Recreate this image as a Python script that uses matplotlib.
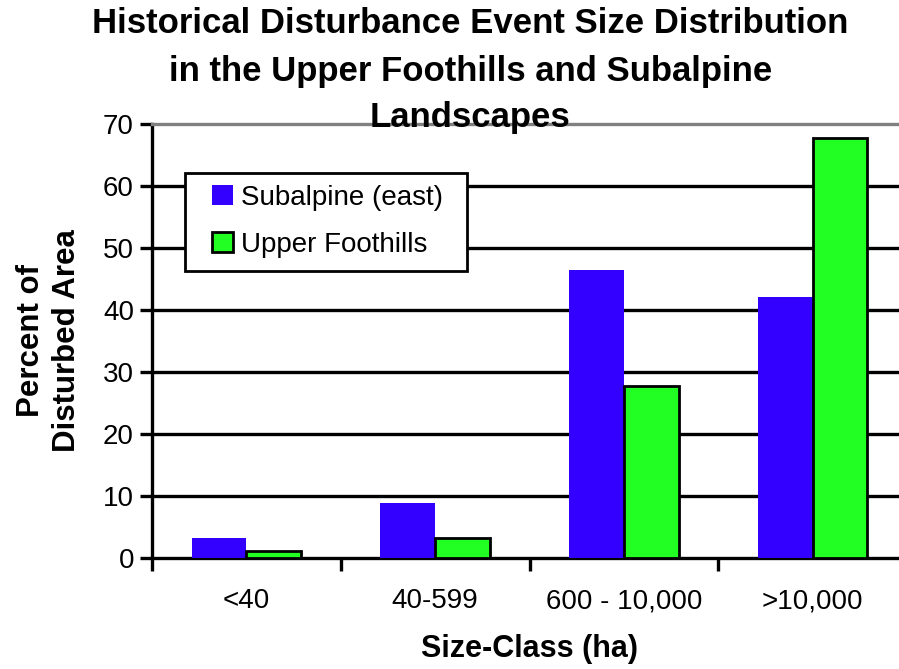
import matplotlib.pyplot as plt
import numpy as np
import matplotlib as mpl
from matplotlib.patches import Rectangle

mpl.rcParams['font.family'] = ['Liberation Sans', 'DejaVu Sans']
mpl.rcParams['font.size'] = 20

# data
size_classes = ['<40', '40-599', '600 - 10,000', '>10,000']
subalpine_east = [3.1, 8.8, 46.4, 42.0]
upper_foothills = [1.0, 3.1, 27.7, 67.8]
legend_labels = ['Subalpine (east)', 'Upper Foothills']
title_lines = ['Historical Disturbance Event Size Distribution',
               'in the Upper Foothills and Subalpine',
               'Landscapes']

fig = plt.figure(figsize=(8.99, 6.69), dpi=100)
ax = fig.add_axes([0.169, 0.1664, 0.84, 0.6483])

x = np.arange(len(size_classes))
width = 0.29
ax.bar(x - width / 2, subalpine_east, width, color='#3300ff', edgecolor='none',
       label=legend_labels[0], zorder=3)
ax.bar(x + width / 2, upper_foothills, width, color='#22ff22', edgecolor='black',
       linewidth=2, label=legend_labels[1], zorder=3)

ax.set_xlim(-0.5, 3.5)
ax.set_ylim(0, 70)
ax.set_yticks(range(0, 71, 10))
for yv in range(10, 70, 10):
    ax.axhline(yv, color='black', lw=2.4, zorder=1)

# labels at category centres, tick marks at the boundaries
ax.set_xticks(x)
ax.set_xticklabels(size_classes)
ax.set_xticks(np.arange(-0.5, 3.6, 1), minor=True)
ax.tick_params(axis='x', which='major', length=0, pad=22)
ax.tick_params(axis='x', which='minor', length=9, width=2.4, direction='out')
ax.tick_params(axis='y', length=9, width=2.4, direction='out', pad=4)

ax.spines['right'].set_visible(False)
ax.spines['top'].set_color('#808080')
ax.spines['top'].set_linewidth(2.4)
ax.spines['left'].set_linewidth(2.4)
ax.spines['bottom'].set_linewidth(2.4)

ax.set_ylabel('Percent of\nDisturbed Area', fontsize=22.5, fontweight='bold',
              labelpad=15, linespacing=1.25)
ax.set_xlabel('Size-Class (ha)', fontsize=22, fontweight='bold', labelpad=14)

# three title lines, placed by baseline
for line, ypx in zip(title_lines, [33, 81, 127]):
    fig.text(0.523, 1 - ypx / 669, line, ha='center', va='baseline',
             fontsize=25, fontweight='bold')

# legend box drawn separately so the side padding can be wider than the top/bottom
ax.add_patch(Rectangle((0.0437, 0.661), 0.373, 0.226, transform=ax.transAxes,
                       facecolor='white', edgecolor='black', lw=2, zorder=4))
ax.legend(loc='upper left', bbox_to_anchor=(0.0795, 0.860), fontsize=20,
          frameon=False, handlelength=0.75, handleheight=0.75, handletextpad=0.3,
          borderpad=0, labelspacing=0.75, borderaxespad=0)

plt.savefig('out.png', dpi=100)
